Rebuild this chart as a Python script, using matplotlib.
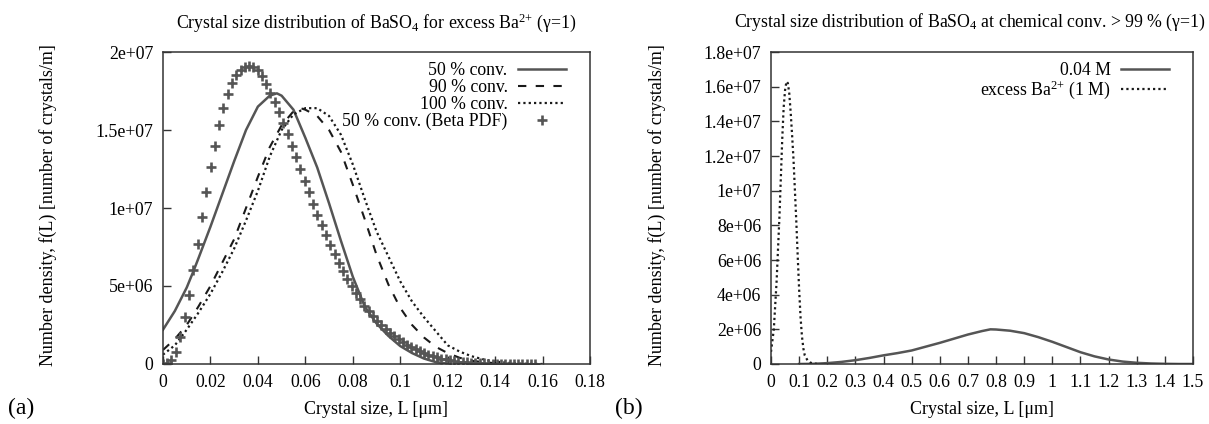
import matplotlib
matplotlib.use("Agg")
import matplotlib.pyplot as plt

plt.rcParams['font.family'] = ['Liberation Serif', 'DejaVu Serif']
plt.rcParams['mathtext.default'] = 'regular'

# ---------------- Panel (a) data ----------------
conv50_x = [0, 0.005, 0.01, 0.0127, 0.015, 0.02, 0.025, 0.03, 0.035, 0.04, 0.045, 0.048,
            0.05, 0.055, 0.06, 0.065, 0.07, 0.075, 0.08, 0.085, 0.09, 0.095, 0.1, 0.105,
            0.11, 0.115, 0.12]
conv50_y = [2.2e6, 3.4e6, 4.9e6, 5.9e6, 6.8e6, 8.8e6, 1.09e7, 1.3e7, 1.5e7, 1.65e7, 1.72e7, 1.735e7,
            1.72e7, 1.63e7, 1.45e7, 1.26e7, 1.03e7, 7.9e6, 5.6e6, 3.7e6, 2.6e6, 1.8e6, 1.15e6, 0.7e6,
            0.35e6, 0.12e6, 0.03e6]

conv90_x = [0, 0.005, 0.01, 0.015, 0.02, 0.025, 0.03, 0.035, 0.04, 0.045, 0.05, 0.055, 0.058,
            0.06, 0.065, 0.07, 0.075, 0.08, 0.085, 0.09, 0.095, 0.1, 0.105, 0.11, 0.115, 0.12,
            0.125, 0.13, 0.14, 0.15]
conv90_y = [0.9e6, 1.6e6, 2.5e6, 3.7e6, 5.0e6, 6.5e6, 8.0e6, 1.0e7, 1.2e7, 1.39e7, 1.53e7, 1.62e7, 1.64e7,
            1.63e7, 1.59e7, 1.5e7, 1.36e7, 1.15e7, 9.3e6, 7.0e6, 5.1e6, 3.6e6, 2.5e6, 1.7e6, 1.1e6, 0.7e6,
            0.4e6, 0.2e6, 0.05e6, 0.01e6]

conv100_x = [0, 0.005, 0.01, 0.015, 0.02, 0.025, 0.03, 0.035, 0.04, 0.045, 0.05, 0.055, 0.06,
             0.065, 0.07, 0.075, 0.08, 0.085, 0.09, 0.095, 0.1, 0.105, 0.11, 0.115, 0.12, 0.125,
             0.13, 0.135, 0.14, 0.15, 0.16]
conv100_y = [0.6e6, 1.2e6, 2.2e6, 3.3e6, 4.5e6, 5.9e6, 7.4e6, 9.2e6, 1.11e7, 1.33e7, 1.5e7, 1.6e7, 1.64e7,
             1.64e7, 1.59e7, 1.47e7, 1.28e7, 1.06e7, 8.5e6, 6.9e6, 5.3e6, 4.0e6, 3.0e6, 2.1e6, 1.2e6, 0.8e6,
             0.5e6, 0.3e6, 0.15e6, 0.03e6, 0.0]

beta_x = [0.0, 0.0018, 0.0035, 0.0054, 0.0073, 0.0092, 0.011, 0.0128, 0.0147, 0.0165, 0.0183, 0.0201,
          0.0219, 0.0237, 0.0255, 0.0273, 0.0291, 0.0309, 0.0327, 0.0345, 0.0363, 0.0381, 0.0399, 0.0417,
          0.0435, 0.0453, 0.0471, 0.0489, 0.0507, 0.0525, 0.0543, 0.0561, 0.0579, 0.0597, 0.0615, 0.0633,
          0.0651, 0.0669, 0.0687, 0.0705, 0.0723, 0.0741, 0.0759, 0.0777, 0.0795, 0.0813, 0.0831, 0.0849,
          0.0867, 0.0885, 0.0903, 0.0921, 0.0939, 0.0957, 0.0975, 0.0993, 0.1011, 0.1029, 0.1047, 0.1065,
          0.1083, 0.1101, 0.1119, 0.1137, 0.1155, 0.1173, 0.1191, 0.1209, 0.1227, 0.1245, 0.1263, 0.1281,
          0.1299, 0.1317, 0.1335, 0.1353, 0.1371, 0.1389, 0.1407, 0.1425, 0.1443, 0.1461, 0.1479, 0.1497,
          0.1515, 0.1533, 0.1551, 0.1569]
beta_y = [0.0, 0.05e6, 0.25e6, 0.8e6, 1.75e6, 3.0e6, 4.4e6, 6.0e6, 7.7e6, 9.4e6, 11.05e6, 12.6e6,
          14.0e6, 15.3e6, 16.4e6, 17.3e6, 18.0e6, 18.5e6, 18.85e6, 19.05e6, 19.1e6, 19.05e6, 18.85e6, 18.45e6,
          17.95e6, 17.4e6, 16.8e6, 16.15e6, 15.45e6, 14.75e6, 14.0e6, 13.25e6, 12.5e6, 11.75e6, 11.0e6, 10.25e6,
          9.55e6, 8.9e6, 8.25e6, 7.65e6, 7.05e6, 6.5e6, 5.95e6, 5.45e6, 5.0e6, 4.55e6, 4.15e6, 3.75e6,
          3.4e6, 3.05e6, 2.75e6, 2.5e6, 2.25e6, 2.0e6, 1.8e6, 1.6e6, 1.42e6, 1.25e6, 1.1e6, 0.95e6,
          0.82e6, 0.7e6, 0.6e6, 0.5e6, 0.42e6, 0.35e6, 0.29e6, 0.24e6, 0.2e6, 0.16e6, 0.13e6, 0.1e6,
          0.08e6, 0.065e6, 0.05e6, 0.04e6, 0.03e6, 0.022e6, 0.016e6, 0.011e6, 0.008e6, 0.005e6, 0.003e6, 0.002e6,
          0.001e6, 0.0, 0.0, 0.0]

a_xticks = [0, 0.02, 0.04, 0.06, 0.08, 0.1, 0.12, 0.14, 0.16, 0.18]
a_xticklabels = ['0', '0.02', '0.04', '0.06', '0.08', '0.1', '0.12', '0.14', '0.16', '0.18']
a_yticks = [0, 5e6, 1e7, 1.5e7, 2e7]
a_yticklabels = ['0', '5e+06', '1e+07', '1.5e+07', '2e+07']

# ---------------- Panel (b) data ----------------
m004_x = [0.1, 0.15, 0.2, 0.25, 0.3, 0.35, 0.4, 0.45, 0.5, 0.55, 0.6, 0.65, 0.7, 0.75, 0.78,
          0.8, 0.85, 0.9, 0.95, 1.0, 1.05, 1.1, 1.15, 1.2, 1.25, 1.3, 1.35, 1.4, 1.45, 1.5]
m004_y = [0.0, 0.01e6, 0.05e6, 0.12e6, 0.22e6, 0.35e6, 0.5e6, 0.63e6, 0.78e6, 1.0e6, 1.22e6, 1.46e6,
          1.7e6, 1.9e6, 2.0e6, 1.99e6, 1.92e6, 1.78e6, 1.55e6, 1.28e6, 0.98e6, 0.68e6, 0.44e6, 0.26e6,
          0.14e6, 0.07e6, 0.03e6, 0.01e6, 0.0, 0.0]

excess_x = [0, 0.01, 0.02, 0.03, 0.04, 0.045, 0.05, 0.055, 0.06, 0.065, 0.07, 0.075, 0.08, 0.085,
            0.09, 0.095, 0.1, 0.105, 0.11, 0.115, 0.12, 0.13, 0.14, 0.15, 0.17]
excess_y = [0.7e6, 2.0e6, 4.8e6, 8.5e6, 1.3e7, 1.48e7, 1.58e7, 1.63e7, 1.62e7, 1.56e7, 1.45e7, 1.32e7,
            1.18e7, 1.0e7, 8.2e6, 6.2e6, 4.3e6, 2.7e6, 1.6e6, 0.9e6, 0.5e6, 0.2e6, 0.08e6, 0.03e6, 0.0]

b_xticks = [0, 0.1, 0.2, 0.3, 0.4, 0.5, 0.6, 0.7, 0.8, 0.9, 1.0, 1.1, 1.2, 1.3, 1.4, 1.5]
b_xticklabels = ['0', '0.1', '0.2', '0.3', '0.4', '0.5', '0.6', '0.7', '0.8', '0.9', '1',
                 '1.1', '1.2', '1.3', '1.4', '1.5']
b_yticks = [0, 2e6, 4e6, 6e6, 8e6, 1e7, 1.2e7, 1.4e7, 1.6e7, 1.8e7]
b_yticklabels = ['0', '2e+06', '4e+06', '6e+06', '8e+06', '1e+07', '1.2e+07', '1.4e+07',
                 '1.6e+07', '1.8e+07']

W, H = 1209, 424
fig = plt.figure(figsize=(W / 100, H / 100), dpi=100)
axA = fig.add_axes([163 / W, 1 - 364 / H, 427 / W, 312 / H])
axB = fig.add_axes([771 / W, 1 - 364 / H, 422 / W, 312 / H])

GRAY = '#555555'
DARK = '#1a1a1a'
FS = 12.8

# panel a
axA.plot(conv50_x, conv50_y, color=GRAY, lw=1.8, label='50 % conv.')
axA.plot(conv90_x, conv90_y, color=DARK, lw=1.5, dashes=(4, 4.5), label='90 % conv.')
axA.plot(conv100_x, conv100_y, color=DARK, lw=1.6, dashes=(1, 1.4), label='100 % conv.')
axA.plot(beta_x, beta_y, ls='none', marker='+', ms=6.5, mew=1.9, color=GRAY,
         label='50 % conv. (Beta PDF)')
axA.set_xlim(0, 0.18)
axA.set_ylim(0, 2e7)
axA.set_xticks(a_xticks)
axA.set_xticklabels(a_xticklabels)
axA.set_yticks(a_yticks)
axA.set_yticklabels(a_yticklabels)
axA.set_title('Crystal size distribution of BaSO$_4$ for excess Ba$^{2{+}}$ (\u03b3=1)',
              fontsize=FS, pad=17)

# panel b
axB.plot(m004_x, m004_y, color=GRAY, lw=1.8, label='0.04 M')
axB.plot(excess_x, excess_y, color=DARK, lw=1.6, dashes=(1, 1.4), label='excess Ba$^{2{+}}$ (1 M)')
axB.set_xlim(0, 1.5)
axB.set_ylim(0, 1.8e7)
axB.set_xticks(b_xticks)
axB.set_xticklabels(b_xticklabels)
axB.set_yticks(b_yticks)
axB.set_yticklabels(b_yticklabels)
axB.text(1206 / W, 1 - 22 / H,
         'Crystal size distribution of BaSO$_4$ at chemical conv. > 99 % (\u03b3=1)',
         transform=fig.transFigure, fontsize=FS, ha='right', va='center')

for ax, w in ((axA, 427), (axB, 422)):
    ax.tick_params(direction='in', length=6, width=1, labelsize=FS, top=False, right=False,
                   color='#333333', pad=7)
    for s in ax.spines.values():
        s.set_color('#333333')
        s.set_linewidth(1.1)
    ax.set_xlabel('Crystal size, L [\u03bcm]', fontsize=13)
    ax.set_ylabel('Number density, f(L) [number of crystals/m]', fontsize=13)
    ax.xaxis.set_label_coords(0.5, -0.118)
    ax.yaxis.set_label_coords(-0.248, 0.51)
    ax.legend(loc='upper right', bbox_to_anchor=(1 - 14 / w, 1), markerfirst=False,
              frameon=False, fontsize=FS, handlelength=2.7, handletextpad=0.6,
              labelspacing=0.0, borderaxespad=0.3, borderpad=0.25)

fig.text(8 / W, 1 - 408 / H, '(a)', fontsize=17, va='center', ha='left')
fig.text(615 / W, 1 - 408 / H, '(b)', fontsize=17, va='center', ha='left')

fig.savefig('out.png', dpi=100)
